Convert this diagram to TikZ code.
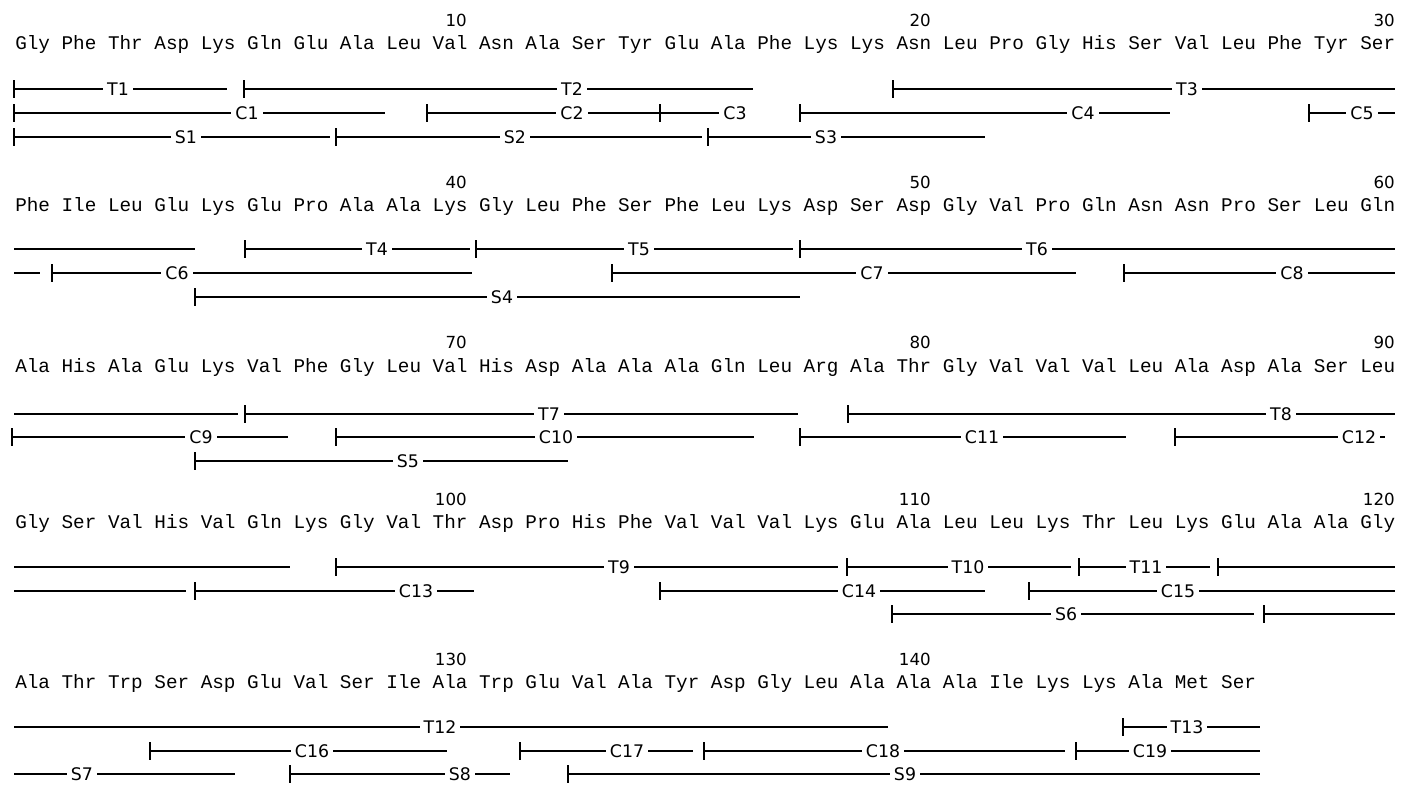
\documentclass[tikz,border=0pt]{standalone}
\usepackage{fontspec}
\setmainfont{Liberation Mono}
\newfontfamily\seqfont{Liberation Mono}
\newfontfamily\labfont{DejaVu Sans}
% #1 name, #2 x1, #3 x2, #4 y, #5 tick (1/0), #6 label, #7 label x
\newcommand\Frag[7]{%
  \coordinate (#1a) at (#2,#4);
  \coordinate (#1b) at (#3,#4);
  \draw[seg] (#1a) -- (#1b);
  \ifnum#5=1 \draw[seg] ([yshift=6.75pt]#1a) -- ([yshift=-6.75pt]#1a);\fi
  \if\relax\detokenize{#6}\relax\else
    \node[lab] (#1l) at (#7,#4) {#6};\fi
}
\newcommand\SeqRow[3]{% #1 row id, #2 baseline y, #3 list
  \foreach \r [count=\i from 0] in {#3}
    \node[seq] (res#1-\i) at ({15+46.38*\i},#2) {\r};
}
\begin{document}
\begin{tikzpicture}[x=0.75pt,y=-0.75pt,
  seq/.style={font=\seqfont\fontsize{14.5}{14.5}\selectfont, anchor=base west, inner sep=0pt},
  num/.style={font=\labfont\fontsize{12.5}{12.5}\selectfont, anchor=base east, inner sep=0pt},
  seg/.style={line width=1.5pt},
  lab/.style={font=\labfont\fontsize{13}{13}\selectfont, fill=white, inner xsep=3pt, inner ysep=1pt}]
\useasboundingbox (0,0) rectangle (1401,792);
\fill[white] (0,0) rectangle (1401,792);

% ---------- row 1 ----------
\SeqRow{1}{50}{Gly,Phe,Thr,Asp,Lys,Gln,Glu,Ala,Leu,Val,Asn,Ala,Ser,Tyr,Glu,Ala,Phe,Lys,Lys,Asn,Leu,Pro,Gly,His,Ser,Val,Leu,Phe,Tyr,Ser}
\node[num] (n10) at (467,27) {10};
\node[num] (n20) at (931,27) {20};
\node[num] (n30) at (1395,27) {30};
\Frag{T1}{14}{227}{89}{1}{T1}{118}
\Frag{T2}{244}{753}{89}{1}{T2}{572}
\Frag{T3}{893}{1395}{89}{1}{T3}{1187}
\Frag{C1}{14}{385}{113}{1}{C1}{247}
\Frag{C2}{427}{660}{113}{1}{C2}{572}
\Frag{C3}{660}{740}{113}{1}{C3}{735}
\Frag{C4}{800}{1170}{113}{1}{C4}{1083}
\Frag{C5}{1309}{1395}{113}{1}{C5}{1362}
\Frag{S1}{14}{330}{137}{1}{S1}{186}
\Frag{S2}{336}{702}{137}{1}{S2}{515}
\Frag{S3}{708}{985}{137}{1}{S3}{826}

% ---------- row 2 ----------
\SeqRow{2}{211}{Phe,Ile,Leu,Glu,Lys,Glu,Pro,Ala,Ala,Lys,Gly,Leu,Phe,Ser,Phe,Leu,Lys,Asp,Ser,Asp,Gly,Val,Pro,Gln,Asn,Asn,Pro,Ser,Leu,Gln}
\node[num] (n40) at (467,188) {40};
\node[num] (n50) at (931,188) {50};
\node[num] (n60) at (1395,188) {60};
\Frag{T3c}{14}{195}{249}{0}{}{}
\Frag{T4}{245}{470}{249}{1}{T4}{377}
\Frag{T5}{476}{793}{249}{1}{T5}{639}
\Frag{T6}{800}{1395}{249}{1}{T6}{1037}
\Frag{C5c}{14}{40}{273}{0}{}{}
\Frag{C6}{52}{472}{273}{1}{C6}{177}
\Frag{C7}{612}{1076}{273}{1}{C7}{872}
\Frag{C8}{1124}{1395}{273}{1}{C8}{1292}
\Frag{S4}{195}{800}{297}{1}{S4}{502}

% ---------- row 3 ----------
\SeqRow{3}{372}{Ala,His,Ala,Glu,Lys,Val,Phe,Gly,Leu,Val,His,Asp,Ala,Ala,Ala,Gln,Leu,Arg,Ala,Thr,Gly,Val,Val,Val,Leu,Ala,Asp,Ala,Ser,Leu}
\node[num] (n70) at (467,348) {70};
\node[num] (n80) at (931,348) {80};
\node[num] (n90) at (1395,348) {90};
\Frag{T6c}{14}{238}{414}{0}{}{}
\Frag{T7}{245}{798}{414}{1}{T7}{549}
\Frag{T8}{848}{1395}{414}{1}{T8}{1281}
\Frag{C9}{12}{288}{437}{1}{C9}{201}
\Frag{C10}{336}{754}{437}{1}{C10}{556}
\Frag{C11}{800}{1126}{437}{1}{C11}{982}
\Frag{C12}{1175}{1385}{437}{1}{C12}{1359}
\Frag{S5}{195}{568}{461}{1}{S5}{408}

% ---------- row 4 ----------
\SeqRow{4}{528}{Gly,Ser,Val,His,Val,Gln,Lys,Gly,Val,Thr,Asp,Pro,His,Phe,Val,Val,Val,Lys,Glu,Ala,Leu,Leu,Lys,Thr,Leu,Lys,Glu,Ala,Ala,Gly}
\node[num] (n100) at (467,505) {100};
\node[num] (n110) at (931,505) {110};
\node[num] (n120) at (1395,505) {120};
\Frag{T8c}{14}{290}{567}{0}{}{}
\Frag{T9}{336}{838}{567}{1}{T9}{619}
\Frag{T10}{847}{1071}{567}{1}{T10}{968}
\Frag{T11}{1079}{1210}{567}{1}{T11}{1146}
\Frag{T12s}{1218}{1395}{567}{1}{}{}
\Frag{C12c}{14}{186}{591}{0}{}{}
\Frag{C13}{195}{474}{591}{1}{C13}{416}
\Frag{C14}{660}{985}{591}{1}{C14}{859}
\Frag{C15}{1029}{1395}{591}{1}{C15}{1178}
\Frag{S6}{892}{1254}{614}{1}{S6}{1066}
\Frag{S7s}{1264}{1395}{614}{1}{}{}

% ---------- row 5 ----------
\SeqRow{5}{688}{Ala,Thr,Trp,Ser,Asp,Glu,Val,Ser,Ile,Ala,Trp,Glu,Val,Ala,Tyr,Asp,Gly,Leu,Ala,Ala,Ala,Ile,Lys,Lys,Ala,Met,Ser}
\node[num] (n130) at (467,665) {130};
\node[num] (n140) at (931,665) {140};
\Frag{T12}{14}{888}{727}{0}{T12}{440}
\Frag{T13}{1123}{1260}{727}{1}{T13}{1187}
\Frag{C16}{150}{447}{751}{1}{C16}{312}
\Frag{C17}{520}{693}{751}{1}{C17}{627}
\Frag{C18}{704}{1065}{751}{1}{C18}{883}
\Frag{C19}{1076}{1260}{751}{1}{C19}{1150}
\Frag{S7}{14}{235}{774}{0}{S7}{82}
\Frag{S8}{290}{510}{774}{1}{S8}{460}
\Frag{S9}{568}{1260}{774}{1}{S9}{905}
\end{tikzpicture}
\end{document}
